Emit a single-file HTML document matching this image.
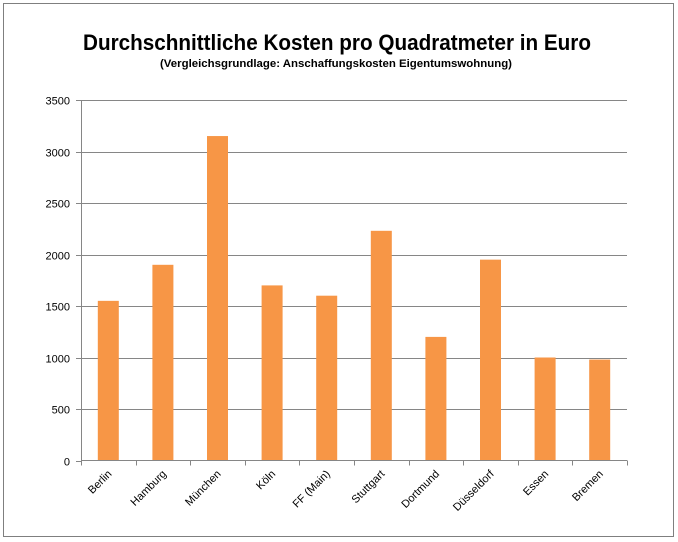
<!DOCTYPE html>
<html><head><meta charset="utf-8"><style>
body{margin:0;background:#fff;}
svg{display:block;font-family:"Liberation Sans",sans-serif;}
</style></head><body>
<svg id="chart" width="678" height="542" viewBox="0 0 678 542">
<rect x="3.5" y="3.5" width="670" height="533" fill="#fff" stroke="#7f7f7f" stroke-width="1"/>
<text x="337" y="50" text-anchor="middle" font-size="22" font-weight="bold" textLength="508" lengthAdjust="spacingAndGlyphs">Durchschnittliche Kosten pro Quadratmeter in Euro</text>
<text x="336" y="67" text-anchor="middle" font-size="11" font-weight="bold" textLength="352" lengthAdjust="spacingAndGlyphs">(Vergleichsgrundlage:  Anschaffungskosten  Eigentumswohnung)</text>
<g id="grid"></g><g id="bars"></g><g id="axes"></g>
</svg>
<script>
const categories=["Berlin","Hamburg","München","Köln","FF (Main)","Stuttgart","Dortmund","Düsseldorf","Essen","Bremen"];
const values=[1550,1900,3150,1700,1600,2230,1200,1950,1000,980];
const yTicks=[0,500,1000,1500,2000,2500,3000,3500];
const NS="http://www.w3.org/2000/svg";
const x0=81,x1=627,yTop=100,yBot=460.5,yMax=3500;
const bw=(x1-x0)/categories.length;
function y(v){return yBot-(v/yMax)*(yBot-yTop);}
function xc(i){return x0+bw*(i+0.5);}
function mk(tag,attrs,parent){const e=document.createElementNS(NS,tag);for(const k in attrs)e.setAttribute(k,attrs[k]);parent.appendChild(e);return e;}
const grid=document.getElementById('grid'),bars=document.getElementById('bars'),axes=document.getElementById('axes');
yTicks.forEach(t=>{
  const yy=Math.round(y(t))+0.5;
  if(t>0){const g=mk('line',{x1:x0,x2:x1,y1:yy,y2:yy,stroke:'#868686','stroke-width':1},grid);
  
  }
  const tk=mk('line',{x1:x0-5,x2:x0,y1:yy,y2:yy,stroke:'#868686'},axes);
  
  
  const lb=mk('text',{x:x0-11,y:yy+4,'text-anchor':'end','font-size':11,fill:'#000'},axes);
  lb.textContent=t;
  
  
});
values.forEach((v,i)=>{
  const r=mk('rect',{x:xc(i)-10.5,y:y(v),width:21,height:yBot-y(v),fill:'#F79646'},bars);
  
  
});
const ya=mk('line',{x1:x0+0.5,x2:x0+0.5,y1:yTop,y2:yBot,stroke:'#868686'},axes);


const xa=mk('line',{x1:x0,x2:x1,y1:yBot,y2:yBot,stroke:'#868686'},axes);


for(let i=0;i<=categories.length;i++){
  const xx=Math.round(x0+bw*i)+0.5;
  const t=mk('line',{x1:xx,x2:xx,y1:yBot,y2:yBot+5,stroke:'#868686'},axes);
  
  
}
categories.forEach((c,i)=>{
  const tx=xc(i)+4,ty=yBot+14;
  const l=mk('text',{x:tx,y:ty,'text-anchor':'end','font-size':11,transform:`rotate(-45 ${tx} ${ty})`},axes);
  l.textContent=c;
  
  
});
</script>
</body></html>
